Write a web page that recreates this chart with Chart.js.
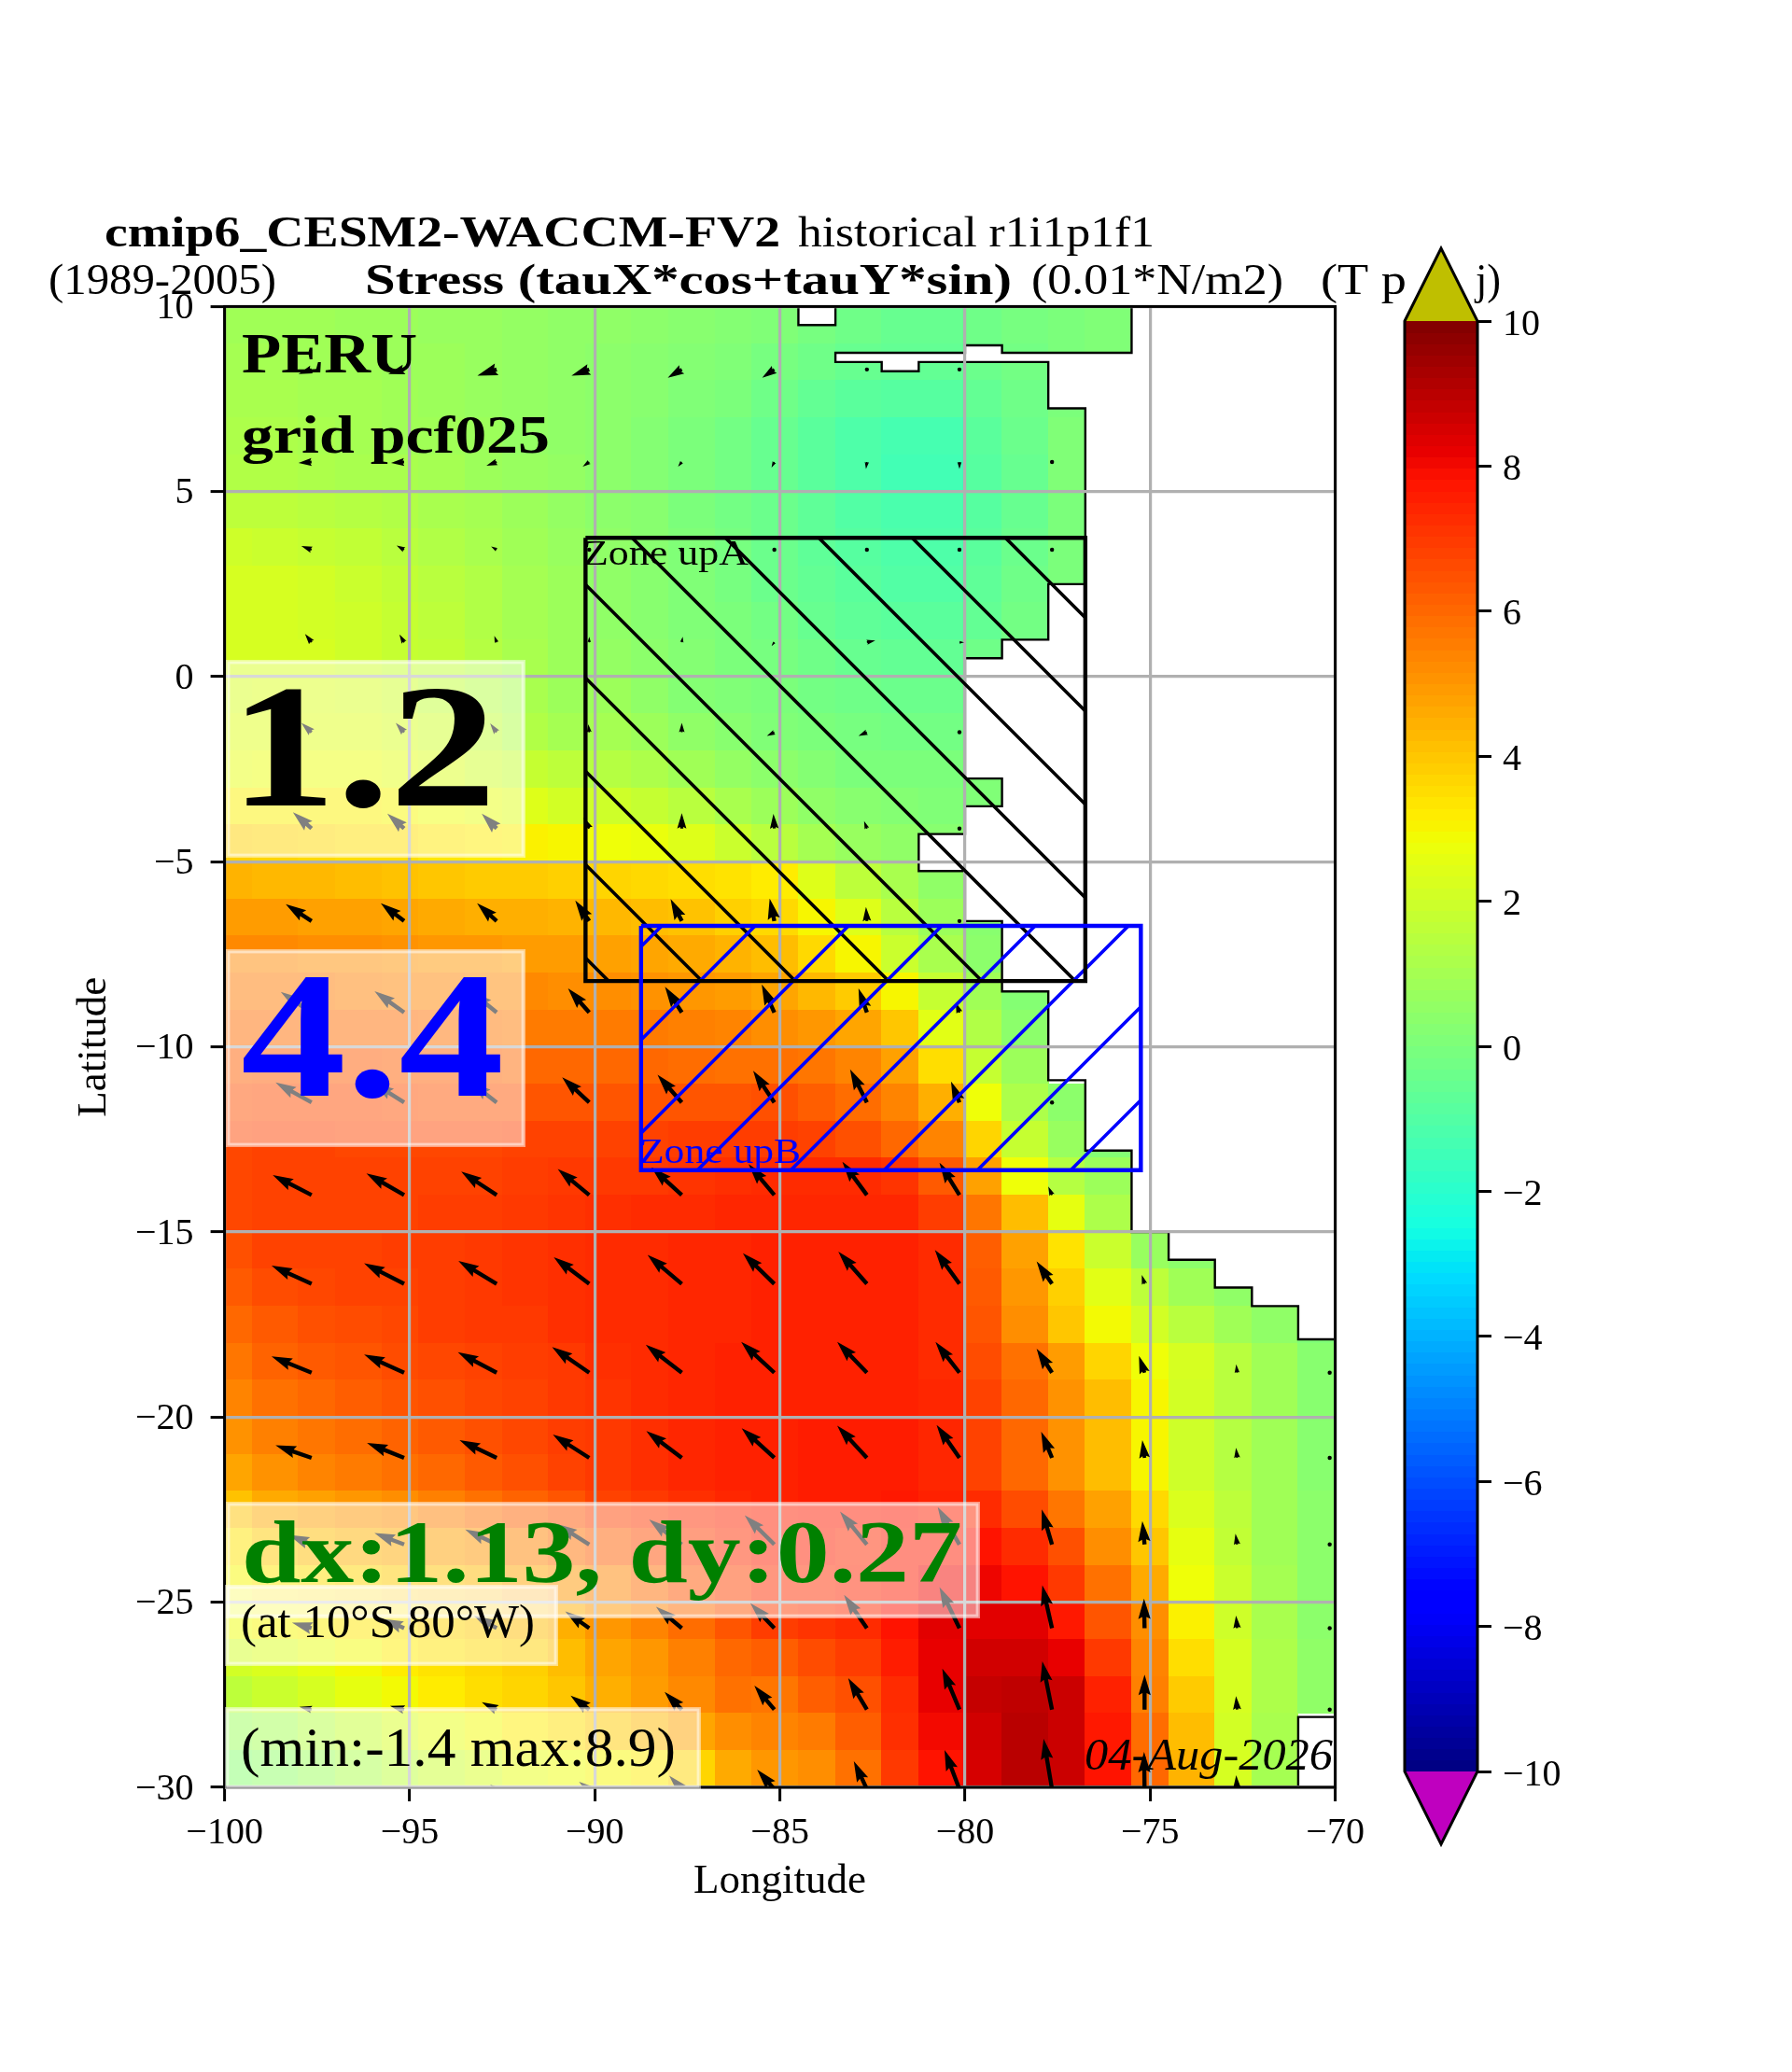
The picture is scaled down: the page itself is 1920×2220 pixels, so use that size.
<!DOCTYPE html>
<html>
<head>
<meta charset="utf-8">
<title>Stress map</title>
<script src="https://cdn.jsdelivr.net/npm/chart.js@4/dist/chart.umd.min.js"></script>
<style>
html, body { margin: 0; padding: 0; background: #fff; }
#page { position: relative; width: 1920px; height: 2220px; }
canvas { position: absolute; left: 0; top: 0; }
</style>
</head>
<body>
<div id="page">
  <canvas id="mapChart" width="1920" height="2220"></canvas>
  <canvas id="barChart" width="1920" height="2220"></canvas>
</div>
<script>
// Data
const _ = null; // land

const lonEdges = [-100, -99.25, -98, -97, -95.75, -94.75, -93.5, -92.5, -91.25, -90.25, -89, -88, -86.75, -85.75, -84.5, -83.5, -82.25, -81.25, -80, -79, -77.75, -76.75, -75.5, -74.5, -73.25, -72.25, -71, -70];
const latEdges = [10, 9, 8, 7, 6, 5, 4, 3, 2, 1, 0, -1, -2, -3, -4, -5, -6, -7, -8, -9, -10, -11, -12, -13, -14, -15, -16, -17, -18, -19, -20, -21, -22, -23, -24, -25, -26, -27, -28, -29, -30];

// one row per latitude band, north to south
const stress = [
  [.9,.9,.9,.8,.8,.7,.7,.6,.5,.5,.4,.3,.2,.1,-.1,-.3,-.5,-.5,-.3,-.1,0,.1,_,_,_,_,_],
  [1,1,.9,.9,.8,.8,.7,.6,.5,.4,.3,.2,.1,-.1,-.3,-.5,-.6,-.6,-.4,-.2,0,.1,_,_,_,_,_],
  [1.1,1.1,1,1,.9,.8,.7,.6,.5,.4,.3,.1,0,-.3,-.6,-.8,-.9,-.9,-.6,-.3,0,_,_,_,_,_,_],
  [1.2,1.2,1.1,1,.9,.9,.8,.6,.5,.4,.2,0,-.2,-.5,-.8,-1.1,-1.3,-1.3,-.8,-.4,.1,_,_,_,_,_,_],
  [1.3,1.3,1.2,1.1,1.1,1,.8,.7,.6,.4,.2,0,-.2,-.5,-.8,-1.1,-1.4,-1.4,-.9,-.5,.1,_,_,_,_,_,_],
  [1.6,1.6,1.5,1.4,1.3,1.1,1,.8,.6,.4,.3,0,-.2,-.4,-.7,-1,-1.2,-1.2,-.9,-.5,0,_,_,_,_,_,_],
  [2,1.9,1.8,1.7,1.5,1.3,1.1,.9,.7,.5,.3,.1,-.1,-.4,-.7,-.9,-1.1,-1.1,-.8,-.4,0,_,_,_,_,_,_],
  [2.2,2.2,2.1,1.9,1.7,1.5,1.3,1,.8,.5,.3,.1,-.1,-.4,-.6,-.8,-1,-1,-.7,-.3,0,_,_,_,_,_,_],
  [2.2,2.2,2.1,2,1.8,1.6,1.3,1,.8,.5,.3,.1,0,-.2,-.5,-.7,-.8,-.8,-.6,-.2,_,_,_,_,_,_,_],
  [2.2,2.2,2.2,2,1.8,1.7,1.4,1.1,.8,.6,.4,.2,0,-.1,-.3,-.5,-.6,-.6,-.3,-.1,_,_,_,_,_,_,_],
  [2.2,2.3,2.3,2.2,2,1.7,1.4,1.1,.8,.8,.5,.2,.1,0,-.2,-.3,-.4,-.4,_,_,_,_,_,_,_,_,_],
  [2.4,2.4,2.4,2.4,2.2,2,1.7,1.3,1,1,.8,.5,.3,.1,0,-.1,-.2,-.2,_,_,_,_,_,_,_,_,_],
  [2.6,2.7,2.7,2.7,2.5,2.3,2,1.8,1.6,1.4,1.2,.9,.6,.4,.2,0,0,0,.1,_,_,_,_,_,_,_,_],
  [3.1,3.1,3.1,3.1,3,2.8,2.6,2.4,2.1,2,1.8,1.5,1.1,.8,.5,.3,.2,.1,.1,_,_,_,_,_,_,_,_],
  [3.8,3.7,3.6,3.5,3.5,3.3,3.2,3.1,3,2.8,2.7,2.4,1.9,1.5,1,.7,.5,.3,_,_,_,_,_,_,_,_,_],
  [4.4,4.3,4.3,4.2,4.1,4,3.9,3.9,3.8,3.7,3.6,3.5,3.4,3.2,2.4,1.6,1.1,.5,_,_,_,_,_,_,_,_,_],
  [4.9,4.9,4.8,4.8,4.7,4.6,4.5,4.5,4.4,4.3,4.2,4.1,3.8,3.6,3,2.4,1.5,.8,.3,_,_,_,_,_,_,_,_],
  [5.3,5.3,5.2,5.2,5.1,5,5,4.9,4.9,4.8,4.7,4.6,4.4,4.2,3.6,3,1.9,1.1,.4,_,_,_,_,_,_,_,_],
  [5.6,5.6,5.6,5.5,5.4,5.4,5.3,5.3,5.2,5.2,5.1,5,4.9,4.7,4.3,3.9,3,1.8,.9,.2,_,_,_,_,_,_,_],
  [5.9,5.9,5.9,5.9,5.9,5.8,5.7,5.6,5.6,5.6,5.6,5.5,5.4,5.2,5,4.7,4,2.5,1.3,.4,_,_,_,_,_,_,_],
  [6.2,6.3,6.3,6.3,6.2,6.2,6.1,6,6,6,6,5.9,5.8,5.8,5.7,5.4,4.8,3.5,1.8,.8,_,_,_,_,_,_,_],
  [6.5,6.6,6.6,6.6,6.5,6.4,6.4,6.4,6.4,6.4,6.4,6.4,6.4,6.5,6.2,5.9,5.4,4.5,2.8,1.2,.4,_,_,_,_,_,_],
  [6.7,6.8,6.8,6.7,6.7,6.7,6.7,6.8,6.8,6.8,6.8,6.9,6.9,6.9,6.8,6.5,6,5.4,3.7,1.8,.7,.2,_,_,_,_,_],
  [6.7,6.8,6.8,6.8,6.8,6.8,6.8,6.9,7,7,7,7.1,7.2,7.3,7.3,7.3,7.1,6.3,4.8,2.8,1.4,.8,_,_,_,_,_],
  [6.7,6.8,6.8,6.8,6.8,6.9,6.9,7,7.1,7.2,7.3,7.3,7.4,7.4,7.4,7.4,7.4,6.9,5.7,4.2,2.6,1.2,_,_,_,_,_],
  [6.5,6.8,6.8,6.8,6.9,6.9,7,7.1,7.2,7.3,7.3,7.4,7.4,7.5,7.5,7.5,7.5,7.3,6.2,4.8,3.4,1.9,.7,.4,_,_,_],
  [6.3,6.6,6.7,6.8,6.8,6.9,7,7.1,7.2,7.3,7.3,7.4,7.4,7.5,7.5,7.5,7.5,7.3,6.3,5,3.8,2.5,1.6,.9,.5,.2,_],
  [6,6.3,6.5,6.6,6.7,6.9,7,7,7.2,7.3,7.3,7.4,7.4,7.5,7.5,7.5,7.5,7.3,6.4,5.2,4,2.9,2.1,1.5,.9,.5,.1],
  [5.7,6.1,6.3,6.4,6.6,6.7,6.8,6.9,7,7.2,7.3,7.4,7.5,7.5,7.5,7.5,7.5,7.3,6.6,5.8,4.9,3.7,2.8,2.2,1.5,.9,.3],
  [5.4,5.8,6,6.2,6.4,6.5,6.7,6.8,7,7.1,7.3,7.4,7.5,7.5,7.5,7.5,7.5,7.4,6.8,6,5.1,4.2,3,2.1,1.5,.9,.3],
  [5.1,5.5,5.7,5.9,6.1,6.3,6.5,6.7,6.9,7,7.2,7.4,7.5,7.5,7.6,7.6,7.6,7.4,6.8,6,5.1,4.2,3,2,1.4,.9,.3],
  [4.7,5.1,5.4,5.6,5.8,6,6.3,6.5,6.8,7,7.2,7.4,7.5,7.5,7.6,7.6,7.6,7.4,6.8,6,5.1,4.2,3,2,1.4,.9,.3],
  [4.1,4.6,4.8,5,5.2,5.5,5.8,6.1,6.4,6.8,7,7.2,7.4,7.5,7.6,7.6,7.7,7.5,7.3,6.6,5.7,4.8,3.6,2.3,1.6,.9,.4],
  [3.4,3.9,4.2,4.4,4.6,4.8,5,5.4,5.8,6.2,6.6,6.9,7.2,7.5,7.5,7.3,7.6,7.6,7.8,7.3,6.5,5.2,4,2.6,1.7,.9,.4],
  [3,3.3,3.5,3.7,3.9,4.1,4.3,4.7,5,5.4,5.9,6.4,6.8,7.2,7.2,7.4,7.6,8,8.1,7.8,7,5.8,4.6,2.8,1.9,1,.4],
  [2.8,3,3.1,3.3,3.4,3.7,3.9,4.2,4.5,5,5.4,5.9,6.4,6.9,7.1,7.3,7.8,8.3,8.3,8.3,7.7,6.4,5.2,3.1,2,1.1,.4],
  [2.1,2.3,2.6,2.9,3.2,3.4,3.6,3.8,4.2,4.7,5,5.5,6,6.2,6.6,6.9,7.6,8.2,8.6,8.6,8.2,7,5.4,3.5,2.2,1.2,.5],
  [1.6,1.9,2.2,2.6,2.9,3.2,3.5,3.7,4,4.5,4.9,5.3,5.8,5.7,6.2,6.5,7.3,8.2,8.8,8.9,8.7,7.5,5.5,3.9,2.2,1.2,.5],
  [.8,1,1.4,1.8,2.2,2.6,2.9,3.2,3.5,3.9,4.3,4.7,5.2,5.4,5.6,6.2,7.2,8,8.6,9,8.7,7.7,5.9,4.2,2.1,1.1,_],
  [.3,.5,.8,1.2,1.6,1.9,2.2,2.6,2.8,3,3.2,3.7,4.6,5,5.2,5.8,7,7.8,8.5,9,8.7,7.8,6,4.4,2.2,1,_]
];

// land outlines as [lon, lat]
const coastMain = [[-70,10],[-75.5,10],[-75.5,8.75],[-79,8.75],[-79,8.95],[-80,8.95],[-80,8.75],[-83.5,8.75],[-83.5,8.5],[-82.25,8.5],[-82.25,8.25],[-81.25,8.25],[-81.25,8.5],[-77.75,8.5],[-77.75,7.25],[-76.75,7.25],[-76.75,2.5],[-77.75,2.5],[-77.75,1],[-79,1],[-79,.5],[-80,.5],[-80,-2.75],[-79,-2.75],[-79,-3.5],[-80,-3.5],[-80,-4.25],[-81.25,-4.25],[-81.25,-5.25],[-80,-5.25],[-80,-6.6],[-79,-6.6],[-79,-8.5],[-77.75,-8.5],[-77.75,-10.9],[-76.75,-10.9],[-76.75,-12.8],[-75.5,-12.8],[-75.5,-15],[-74.5,-15],[-74.5,-15.75],[-73.25,-15.75],[-73.25,-16.5],[-72.25,-16.5],[-72.25,-17],[-71,-17],[-71,-17.9],[-70,-17.9]];
const coastNorth = [[-84.5,10],[-84.5,9.5],[-83.5,9.5],[-83.5,10]];
const coastSouth = [[-71,-30],[-71,-28.1],[-70,-28.1],[-70,-30]];

// wind stress arrows: tails at these positions, components as read (north positive)
const quiverLons = [-97.65, -95.15, -92.65, -90.15, -87.65, -85.15, -82.65, -80.15, -77.65, -75.15, -72.65, -70.15];
const quiverLats = [8.3, 5.8, 3.43, .93, -1.5, -4.1, -6.6, -9.07, -11.5, -14, -16.4, -18.8, -21.1, -23.44, -25.7, -27.9, -30.05];
const quiverU = [
  [-14,-17,-20.7,-19,-15,-13,0,0,_,_,_,_],
  [-14,-14,-11,-7,-4,-3,-1,0,0,_,_,_],
  [-11,-8,-6,-1,0,0,0,0,0,_,_,_],
  [-7,-5,-2.5,0,1,-3,9,5,_,_,_,_],
  [-11,-9,-7,-1,0,-8,-9,0,_,_,_,_],
  [-20,-18,-16,-6,0,-1,-3,0,_,_,_,_],
  [-27.7,-25,-21,-15,-12,-5,-1,0,_,_,_,_],
  [-33,-31.7,-27,-22.7,-18,-13.5,-9,-4,_,_,_,_],
  [-38.6,-33,-28,-29,-26,-22.7,-18,-9,0,_,_,_],
  [-41.6,-40.4,-38,-33.7,-32.5,-27.6,-26.3,-21.4,-4,_,_,_],
  [-42.9,-42.9,-41,-38,-36.7,-33.7,-30.6,-26.3,-16.5,-3,_,_],
  [-42.9,-42.9,-41.6,-39.8,-38.6,-35.5,-31.8,-25.7,-16.5,-6,-1,0],
  [-38.6,-39.8,-39.8,-39,-38,-35,-31.8,-24.5,-11.6,-2.4,-1.2,0],
  [-24.5,-31.8,-33.7,-34.9,-35,-31.8,-28.8,-23.3,-11,-2.4,-1.8,0],
  [-21,-23,-24.5,-25.7,-27.6,-25.7,-24.5,-21.4,-10.4,-.6,-1.2,0],
  [-13,-15,-16,-20,-18.4,-21.4,-20,-18.4,-10.4,0,-1.2,0],
  [-2,-4,-7,-11,-13.5,-18.4,-14,-16,-9,-.5,-1,_]
];
const quiverV = [
  [-5,-5,-6.7,-6.7,-9,-9,-1,-1,_,_,_,_],
  [-1,-1,-4,-5,-5,-6,-7.5,-7.5,-1,_,_,_],
  [4,4.5,3.5,1,1,1,3,3,1,_,_,_],
  [9,8.5,7,6,6,-4,2,0,_,_,_,_],
  [10,10,9.5,8.5,10,-4,-4,1,_,_,_,_],
  [17.5,16,16,12,16.5,15.6,8,1,_,_,_,_],
  [18,19,19,22,23.5,24,15,1,_,_,_,_],
  [22,22.7,22,25.7,27.5,30,25.7,10.7,_,_,_,_],
  [21.4,21,22,27,29.6,34,35.5,22.5,1,_,_,_],
  [21.4,23.2,25,27.9,29.6,33,35.7,34.6,9,_,_,_],
  [19.6,22,24.6,28.6,31,32.9,34.6,36.4,24,9.6,_,_],
  [17.5,19.6,22,27.5,30,32.9,32.9,32.9,25.7,17.9,9,1],
  [13.4,16,19,24.9,28.7,31.8,34.4,35.2,28,19,10.7,1],
  [10.3,12.2,16,22,26.8,31.4,35.2,40,37.5,25,11.5,1],
  [6,10,13.4,18,23,26.8,35.6,44,46,31.8,13.4,1],
  [3,4,8,15,19,25.6,33.7,44,51.7,37.5,14.5,1],
  [1,3,5,8,14.5,21,30,42,54,40,15,_]
];

// study zones as corner lists [lon, lat]
const zoneA = [[-90.25,3.75],[-76.75,3.75],[-76.75,-8.22],[-90.25,-8.22],[-90.25,3.75]];
const zoneB = [[-88.75,-6.73],[-75.25,-6.73],[-75.25,-13.33],[-88.75,-13.33],[-88.75,-6.73]];

const lonTicks = [-100, -95, -90, -85, -80, -75, -70];
const latTicks = [-30, -25, -20, -15, -10, -5, 0, 5, 10];
const barTicks = [-10, -8, -6, -4, -2, 0, 2, 4, 6, 8, 10];

const FONT = '"Liberation Serif", serif';
const pts = list => list.map(p => ({ x: p[0], y: p[1] }));
const minus = v => String(v).replace('-', '\u2212');

// jet colormap, -10..10
function jet(v) {
  const t = Math.min(1, Math.max(0, (v + 10) / 20));
  const ramp = (knots) => {
    for (let i = 1; i < knots.length; i++) {
      if (t <= knots[i][0]) {
        const a = knots[i - 1], b = knots[i];
        return a[1] + (b[1] - a[1]) * (t - a[0]) / (b[0] - a[0]);
      }
    }
    return knots[knots.length - 1][1];
  };
  const r = ramp([[0, 0], [.35, 0], [.66, 1], [.89, 1], [1, .5]]);
  const g = ramp([[0, 0], [.125, 0], [.375, 1], [.64, 1], [.91, 0], [1, 0]]);
  const b = ramp([[0, .5], [.11, 1], [.34, 1], [.65, 0], [1, 0]]);
  return `rgb(${Math.round(r * 255)},${Math.round(g * 255)},${Math.round(b * 255)})`;
}

// text stretched to the width it has in the picture
function fitText(ctx, text, x, y, font, color, width) {
  ctx.save();
  ctx.font = font;
  ctx.fillStyle = color;
  ctx.textAlign = 'left';
  ctx.textBaseline = 'alphabetic';
  const k = width / ctx.measureText(text).width;
  ctx.translate(x, y);
  ctx.scale(k, 1);
  ctx.fillText(text, 0, 0);
  ctx.restore();
}

function clipArea(chart) {
  const a = chart.chartArea;
  chart.ctx.beginPath();
  chart.ctx.rect(a.left, a.top, a.right - a.left, a.bottom - a.top);
  chart.ctx.clip();
}

function drawLand(chart, poly) {
  const { ctx, scales: { x, y } } = chart;
  ctx.beginPath();
  poly.forEach((p, i) => {
    const px = x.getPixelForValue(p[0]), py = y.getPixelForValue(p[1]);
    if (i === 0) ctx.moveTo(px, py); else ctx.lineTo(px, py);
  });
  ctx.closePath();
  ctx.fillStyle = '#fff';
  ctx.fill();
  ctx.strokeStyle = '#000';
  ctx.lineWidth = 2.4;
  ctx.stroke();
}

const heatPlugin = {
  id: 'heat',
  beforeDraw(chart) {
    const { ctx, scales: { x, y } } = chart;
    ctx.save();
    clipArea(chart);
    stress.forEach((row, j) => {
      const y0 = Math.floor(y.getPixelForValue(latEdges[j]));
      const y1 = Math.ceil(y.getPixelForValue(latEdges[j + 1]));
      row.forEach((v, i) => {
        if (v === null) return;
        const x0 = Math.floor(x.getPixelForValue(lonEdges[i]));
        const x1 = Math.ceil(x.getPixelForValue(lonEdges[i + 1]));
        ctx.fillStyle = jet(v);
        ctx.fillRect(x0, y0, x1 - x0, y1 - y0);
      });
    });
    drawLand(chart, coastMain);
    drawLand(chart, coastNorth);
    drawLand(chart, coastSouth);
    ctx.restore();
  }
};

function drawArrow(ctx, px, py, dx, dy) {
  const w = 4.4;
  const len = Math.hypot(dx, dy);
  ctx.save();
  ctx.translate(px, py);
  if (len < w) {
    ctx.beginPath();
    ctx.arc(0, 0, 2.2, 0, Math.PI * 2);
    ctx.fill();
    ctx.restore();
    return;
  }
  ctx.rotate(Math.atan2(dy, dx));
  // short arrows shrink as a whole, like matplotlib quiver
  const head = 5 * w;
  const k = len < head ? len / head : 1;
  const L = len, hw = 1.5 * w * k, sw = .5 * w * k, neck = L - 4.5 * w * k, back = L - head * k;
  ctx.beginPath();
  ctx.moveTo(0, -sw);
  ctx.lineTo(neck, -sw);
  ctx.lineTo(back, -hw);
  ctx.lineTo(L, 0);
  ctx.lineTo(back, hw);
  ctx.lineTo(neck, sw);
  ctx.lineTo(0, sw);
  ctx.closePath();
  ctx.fill();
  ctx.restore();
}

function hatch(chart, zone, slope, first, color) {
  const { ctx, scales: { x, y } } = chart;
  const l = x.getPixelForValue(zone[0][0]), r = x.getPixelForValue(zone[1][0]);
  const t = y.getPixelForValue(zone[0][1]), b = y.getPixelForValue(zone[2][1]);
  ctx.save();
  ctx.beginPath();
  ctx.rect(l, t, r - l, b - t);
  ctx.clip();
  ctx.strokeStyle = color;
  ctx.lineWidth = 3.6;
  for (let c = first - 3000; c < first + 3000; c += 100) {
    ctx.beginPath();
    // y = slope * x + c
    ctx.moveTo(0, c);
    ctx.lineTo(2000, slope * 2000 + c);
    ctx.stroke();
  }
  ctx.restore();
}

const overlayPlugin = {
  id: 'overlay',
  beforeDatasetsDraw(chart) {
    const { ctx } = chart;
    ctx.save();
    clipArea(chart);
    ctx.fillStyle = '#000';
    const meta = chart.getDatasetMeta(0);
    meta.data.forEach((el, i) => {
      const d = chart.data.datasets[0].data[i];
      drawArrow(ctx, el.x, el.y, d.u, -d.v);
    });
    ctx.restore();
    hatch(chart, zoneA, 1, -1, '#000');
    hatch(chart, zoneB, -1, 1701, '#00f');
  },
  afterDatasetsDraw(chart) {
    const { ctx, chartArea: a } = chart;
    ctx.save();
    ctx.strokeStyle = '#000';
    ctx.lineWidth = 3;
    ctx.strokeRect(a.left, a.top, a.right - a.left, a.bottom - a.top);

    // titles
    const bold = s => `bold ${s}px ${FONT}`, reg = s => `${s}px ${FONT}`;
    fitText(ctx, 'cmip6_CESM2-WACCM-FV2', 112, 264, bold(46), '#000', 724);
    fitText(ctx, 'historical r1i1p1f1', 855, 264, reg(46), '#000', 382);
    fitText(ctx, '(1989-2005)', 52, 315, reg(46), '#000', 244);
    fitText(ctx, 'Stress (tauX*cos+tauY*sin)', 391, 315, bold(46), '#000', 693);
    fitText(ctx, '(0.01*N/m2)', 1105, 315, reg(46), '#000', 270);
    fitText(ctx, '(T p', 1415, 315, reg(46), '#000', 92);
    fitText(ctx, 'j)', 1581, 315, reg(46), '#000', 27);

    // labels inside the map
    fitText(ctx, 'PERU', 259, 399, bold(62), '#000', 188);
    fitText(ctx, 'grid pcf025', 259, 485, bold(58), '#000', 330);
    fitText(ctx, 'Zone upA', 625, 605, reg(37), '#000', 177);
    fitText(ctx, 'Zone upB', 685, 1246, reg(37), '#00f', 173);

    const box = (x0, y0, x1, y1) => {
      ctx.fillStyle = 'rgba(255,255,255,.5)';
      ctx.fillRect(x0, y0, x1 - x0, y1 - y0);
      ctx.strokeStyle = 'rgba(255,255,255,.5)';
      ctx.lineWidth = 2.8;
      ctx.strokeRect(x0 + 3, y0 + 3, x1 - x0 - 6, y1 - y0 - 6);
    };
    box(242, 707, 563, 919);
    fitText(ctx, '1.2', 246, 863, bold(188), '#000', 286);
    box(242, 1017, 563, 1229);
    fitText(ctx, '4.4', 258, 1174, bold(192), '#00f', 282);
    box(242, 1609, 1050, 1734);
    fitText(ctx, 'dx:1.13, dy:0.27', 259, 1695, bold(96), '#008000', 772);
    box(241, 1698, 598, 1785);
    fitText(ctx, '(at 10\u00b0S 80\u00b0W)', 258, 1754, reg(50), '#000', 315);
    box(241, 1829, 751, 1917);
    fitText(ctx, '(min:-1.4 max:8.9)', 258, 1892, reg(59), '#000', 466);
    fitText(ctx, '04-Aug-2026', 1162, 1896, `italic 48px ${FONT}`, '#000', 266);
    ctx.restore();
  }
};

const quiverPoints = [];
quiverU.forEach((row, j) => row.forEach((u, i) => {
  if (u !== null) quiverPoints.push({ x: quiverLons[i], y: quiverLats[j], u: u, v: quiverV[j][i] });
}));

const tickFont = { family: FONT, size: 40 };
const axisFont = { family: FONT, size: 45 };

new Chart(document.getElementById('mapChart'), {
  type: 'scatter',
  data: {
    datasets: [
      { label: 'stress vectors', data: quiverPoints, pointRadius: 0, clip: false },
      { label: 'Zone upA', data: pts(zoneA), showLine: true, borderColor: '#000', borderWidth: 4.4, pointRadius: 0, order: -1 },
      { label: 'Zone upB', data: pts(zoneB), showLine: true, borderColor: '#00f', borderWidth: 4.4, pointRadius: 0, order: -2 }
    ]
  },
  options: {
    responsive: false,
    devicePixelRatio: 1,
    animation: false,
    layout: { padding: { left: 0, top: 328.4, right: 489.4, bottom: 0 } },
    plugins: { legend: { display: false }, tooltip: { enabled: false } },
    scales: {
      x: {
        type: 'linear', min: -100, max: -70,
        afterFit: s => { s.height = 305; },
        afterBuildTicks: s => { s.ticks = lonTicks.map(v => ({ value: v })); },
        grid: { color: '#b0b0b0', lineWidth: 3.2, tickColor: '#000', tickWidth: 3, tickLength: 15 },
        border: { display: false },
        ticks: { color: '#000', font: tickFont, padding: 10, maxRotation: 0, autoSkip: false, callback: minus },
        title: { display: true, text: 'Longitude', color: '#000', font: axisFont, padding: { bottom: 177 } }
      },
      y: {
        type: 'linear', min: -30, max: 10,
        afterFit: s => { s.width = 240.6; },
        afterBuildTicks: s => { s.ticks = latTicks.map(v => ({ value: v })); },
        grid: { color: '#b0b0b0', lineWidth: 3.2, tickColor: '#000', tickWidth: 3, tickLength: 15 },
        border: { display: false },
        ticks: { color: '#000', font: tickFont, padding: 18, labelOffset: 2, autoSkip: false, callback: minus },
        title: { display: true, text: 'Latitude', color: '#000', font: axisFont, padding: { top: 74 } }
      }
    }
  },
  plugins: [heatPlugin, overlayPlugin]
});

// colour bar with its two extension triangles
const barPlugin = {
  id: 'bar',
  beforeDatasetsDraw(chart) {
    const { ctx, chartArea: a, scales: { y } } = chart;
    const top = y.getPixelForValue(10), bottom = y.getPixelForValue(-10);
    const mid = (a.left + a.right) / 2;
    ctx.save();
    const n = 128;
    for (let i = 0; i < n; i++) {
      const v0 = -10 + 20 * i / n, v1 = -10 + 20 * (i + 1) / n;
      const y0 = Math.floor(y.getPixelForValue(v1)), y1 = Math.ceil(y.getPixelForValue(v0));
      ctx.fillStyle = jet((v0 + v1) / 2);
      ctx.fillRect(a.left, y0, a.right - a.left, y1 - y0);
    }
    ctx.fillStyle = '#bfbf00';
    ctx.beginPath();
    ctx.moveTo(a.left, top); ctx.lineTo(mid, 266); ctx.lineTo(a.right, top); ctx.closePath();
    ctx.fill();
    ctx.fillStyle = '#bf00bf';
    ctx.beginPath();
    ctx.moveTo(a.left, bottom); ctx.lineTo(mid, 1976); ctx.lineTo(a.right, bottom); ctx.closePath();
    ctx.fill();
    ctx.strokeStyle = '#000';
    ctx.lineWidth = 3;
    ctx.beginPath();
    ctx.moveTo(a.left, top); ctx.lineTo(mid, 266); ctx.lineTo(a.right, top);
    ctx.lineTo(a.right, bottom); ctx.lineTo(mid, 1976); ctx.lineTo(a.left, bottom);
    ctx.closePath();
    ctx.stroke();
    ctx.restore();
  }
};

new Chart(document.getElementById('barChart'), {
  type: 'scatter',
  data: { datasets: [{ label: 'colour scale', data: barTicks.map(v => ({ x: 0, y: v })), pointRadius: 0 }] },
  options: {
    responsive: false,
    devicePixelRatio: 1,
    animation: false,
    layout: { padding: { left: 1505, top: 344, right: 0, bottom: 322 } },
    plugins: { legend: { display: false }, tooltip: { enabled: false } },
    scales: {
      x: { display: false },
      y: {
        type: 'linear', position: 'right', min: -10, max: 10,
        afterFit: s => { s.width = 337; },
        afterBuildTicks: s => { s.ticks = barTicks.map(v => ({ value: v })); },
        grid: { drawOnChartArea: false, tickColor: '#000', tickWidth: 3, tickLength: 15 },
        border: { display: false },
        ticks: { color: '#000', font: tickFont, padding: 12, labelOffset: 4, autoSkip: false, callback: minus }
      }
    }
  },
  plugins: [barPlugin]
});
</script>
</body>
</html>
